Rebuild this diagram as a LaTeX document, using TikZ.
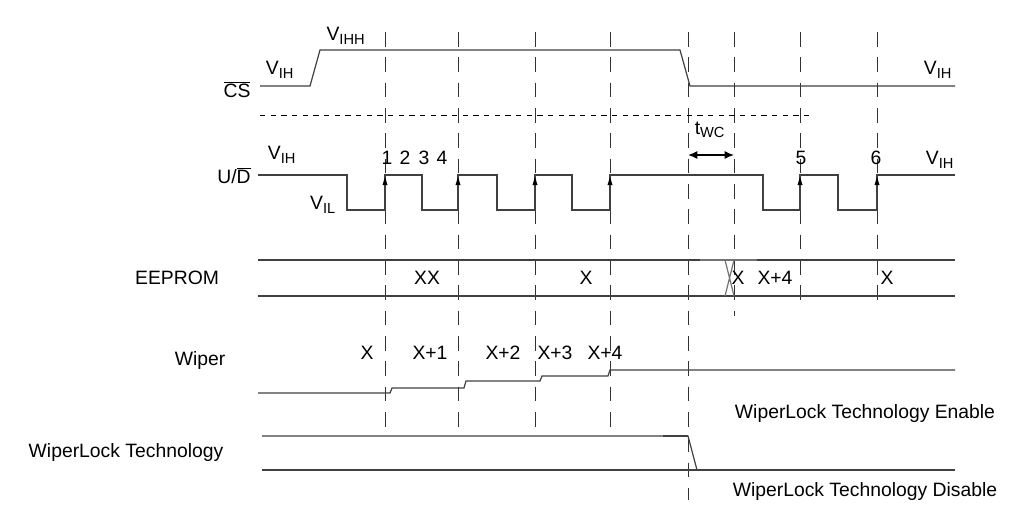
\documentclass[tikz,border=0pt]{standalone}
\usepackage{fontspec}
\setmainfont{Liberation Sans}
\usetikzlibrary{arrows.meta}
\begin{document}
\begin{tikzpicture}[x=0.75pt,y=-0.75pt,
  sig/.style={line width=0.9pt,draw=black!75},
  grid/.style={line width=0.7pt,draw=black!80,dash pattern=on 11pt off 8pt},
  lbl/.style={font=\fontsize{14.5}{16}\selectfont,inner sep=1pt}]
\newcommand{\sbx}[1]{\textsubscript{\fontsize{11}{12}\selectfont #1}}
\useasboundingbox (0,0) rectangle (1028,507);
% dashed verticals
\foreach \x/\ya/\yb in {385/32/433,458/32/433,535/32/433,610/32/433,688/32/500,734/32/316,800/32/300,877/32/300}
  \draw[grid] (\x,\ya) -- (\x,\yb);
% CS
\draw[sig] (260,86) -- (310,86) -- (320,50) -- (680,50) -- (690,86) -- (955,86);
\node[lbl] (vih1) at (280,70) {V\sbx{IH}};
\node[lbl] (vihh) at (346,36) {V\sbx{IHH}};
\node[lbl] (vih2) at (938,70) {V\sbx{IH}};
\node[lbl] (cs) at (237,90) {$\overline{\mbox{CS}}$};
\draw[line width=0.7pt,dash pattern=on 4pt off 4pt] (260,115) -- (810,115);
% U/D
\draw[sig] (258,175) -- (347,175) -- (347,210) -- (385,210) -- (385,175) -- (422,175) -- (422,210) -- (458,210) -- (458,175) -- (497,175) -- (497,210) -- (535,210) -- (535,175) -- (572,175) -- (572,210) -- (610,210) -- (610,175) -- (763,175) -- (763,210) -- (800,210) -- (800,175) -- (838,175) -- (838,210) -- (877,210) -- (877,175) -- (955,175);
\foreach \x in {385,458,535,610,800,877}
  \fill (\x,177) -- ++(-2.5,8) -- ++(5,0) -- cycle;
\node[lbl] (ud) at (234,176) {U/$\overline{\mbox{D}}$};
\node[lbl] (vih3) at (282,155) {V\sbx{IH}};
\node[lbl] (vil) at (323,205) {V\sbx{IL}};
\node[lbl] (vih4) at (940,160) {V\sbx{IH}};
\node[lbl] (n1) at (387,158) {1};
\node[lbl] (n2) at (405,158) {2};
\node[lbl] (n3) at (424,158) {3};
\node[lbl] (n4) at (442,158) {4};
\node[lbl] (n5) at (801,158) {5};
\node[lbl] (n6) at (876,158) {6};
\coordinate (ta) at (688,155); \coordinate (tb) at (734,155);
\draw[line width=1pt,{Latex[length=7pt,width=6pt]}-{Latex[length=7pt,width=6pt]}] (ta) -- (tb);
\node[lbl] (twc) at (710,130) {t\sbx{WC}};
% EEPROM
\draw[sig] (258,260) -- (955,260);
\draw[sig] (258,296) -- (955,296);
\draw[sig,draw=black!55] (700,260) -- (757,260);
\draw[sig,draw=black!55] (725,260) -- (734,296) (734,260) -- (725,296);
\node[lbl] (ee) at (177,278) {EEPROM};
\node[lbl] at (427,278) {XX};
\node[lbl] at (586,278) {X};
\node[lbl] at (738,278) {X};
\node[lbl] at (775,278) {X+4};
\node[lbl] at (887,278) {X};
% Wiper
\draw[sig] (258,393) -- (390,393) -- (392,388) -- (464,388) -- (466,381) -- (540,381) -- (542,376) -- (608,376) -- (610,370) -- (955,370);
\node[lbl] (wp) at (200,360) {Wiper};
\node[lbl] at (367,353) {X};
\node[lbl] at (430,353) {X+1};
\node[lbl] at (503,353) {X+2};
\node[lbl] at (555,353) {X+3};
\node[lbl] at (605,353) {X+4};
% WiperLock
\draw[sig] (262,436) -- (688,436) -- (697,470);
\draw[sig] (663,436) -- (688,436);
\draw[sig] (262,470) -- (955,470);
\node[lbl] (wl) at (126,452) {WiperLock Technology};
\node[lbl] (en) at (865,413) {WiperLock Technology Enable};
\node[lbl] (dis) at (865,491) {WiperLock Technology Disable};
\end{tikzpicture}
\end{document}
